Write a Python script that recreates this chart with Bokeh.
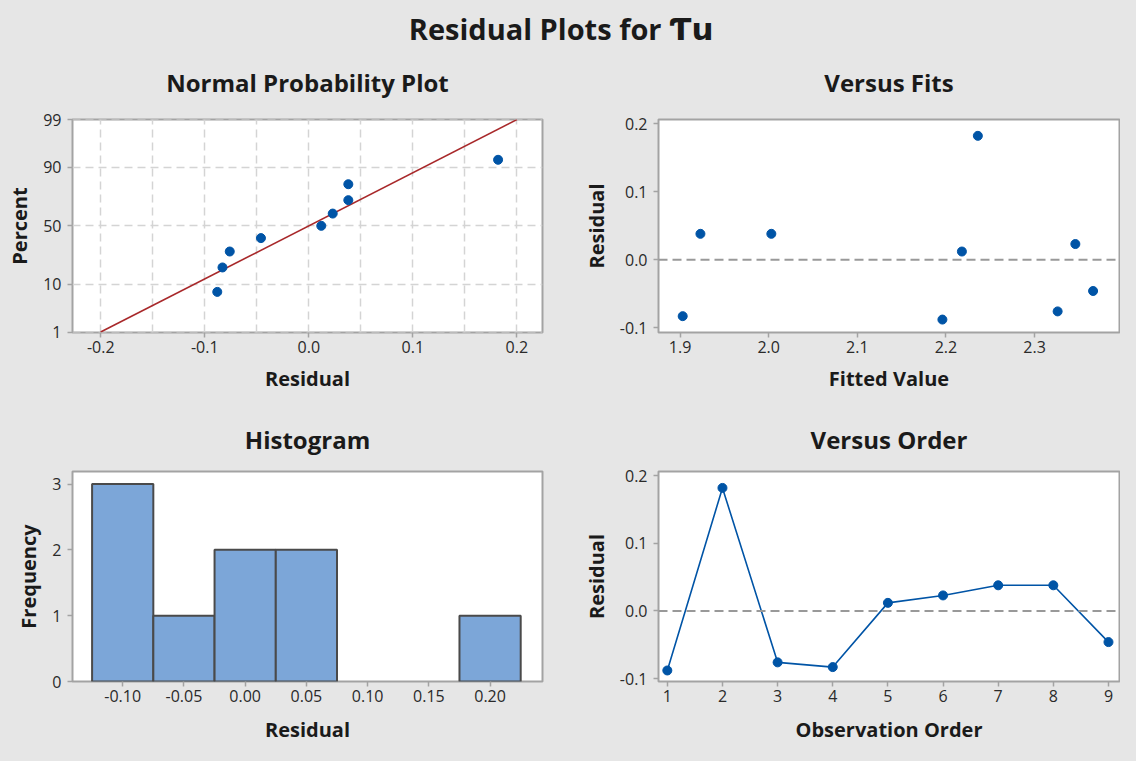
from statistics import NormalDist
import numpy as np
from bokeh.plotting import figure
from bokeh.layouts import column, row
from bokeh.models import FixedTicker, PrintfTickFormatter, Span, Range1d, GlobalInlineStyleSheet
from bokeh.core.properties import value
from bokeh.embed import file_html
from bokeh.resources import INLINE

# ---------------- data ----------------
main_title = "Residual Plots for Ƭu"
panel_titles = ["Normal Probability Plot", "Versus Fits", "Histogram", "Versus Order"]
observation = [1, 2, 3, 4, 5, 6, 7, 8, 9]
residuals = [-0.088, 0.182, -0.076, -0.083, 0.012, 0.023, 0.038, 0.038, -0.046]
fitted = [2.196, 2.236, 2.326, 1.903, 2.218, 2.346, 1.923, 2.003, 2.366]
npp_percent = [7.4, 18.1, 28.7, 39.4, 50.0, 60.6, 71.3, 81.9, 92.6]
percent_ticks = [1, 10, 50, 90, 99]
npp_x_ticks = [-0.2, -0.1, 0.0, 0.1, 0.2]
npp_x_grid = [-0.2, -0.15, -0.1, -0.05, 0.0, 0.05, 0.1, 0.15, 0.2]
fits_x_ticks = [1.9, 2.0, 2.1, 2.2, 2.3]
resid_y_ticks = [-0.1, 0.0, 0.1, 0.2]
hist_centers = [-0.10, -0.05, 0.00, 0.05, 0.10, 0.15, 0.20]
hist_counts = [3, 1, 2, 2, 0, 0, 1]
hist_width = 0.05
freq_ticks = [0, 1, 2, 3]

# ---------------- style ----------------
BG = "#e6e6e6"
FONT = "Open Sans"
BLUE = "#0054A6"
FRAME = "#a3a3a3"
TEXT = "#1a1a1a"

LW, RW = 562, 558
W = LW + RW
TOP_H, H1, MID_H, H2 = 108, 288, 64, 285
BL_L, BR_L, BL_R, BR_R = 72, 20, 96, 1
LEFT_CX = BL_L + (LW - BL_L - BR_L) / 2
RIGHT_CX = LW + BL_R + (RW - BL_R - BR_R) / 2

nd = NormalDist()
def z(pct):
    return nd.inv_cdf(pct / 100.0)


def strip(h):
    s = figure(width=W, height=h, x_range=Range1d(0, W), y_range=Range1d(h, 0),
               output_backend="svg", toolbar_location=None,
               x_axis_type=None, y_axis_type=None, min_border=0,
               background_fill_color=BG, border_fill_color=BG, outline_line_color=None)
    s.xgrid.grid_line_color = None
    s.ygrid.grid_line_color = None
    return s


def add_titles(s, names, y):
    s.text(x=[LEFT_CX, RIGHT_CX], y=[y, y], text=names, text_font=value(FONT),
           text_font_size="24px", text_font_style="bold", text_color=TEXT,
           text_align="center", text_baseline="middle")


def make_fig(w, h, xr, yr, bl, br, bb, xlab_standoff):
    p = figure(width=w, height=h, x_range=Range1d(*xr), y_range=Range1d(*yr),
               output_backend="svg", toolbar_location=None,
               min_border_left=bl, min_border_right=br,
               min_border_top=11, min_border_bottom=bb,
               background_fill_color="white", border_fill_color=BG,
               outline_line_color=FRAME, outline_line_width=2)
    for ax in (p.xaxis[0], p.yaxis[0]):
        ax.axis_line_color = None
        ax.major_tick_line_color = FRAME
        ax.major_tick_line_width = 1.5
        ax.major_tick_in = 0
        ax.major_tick_out = 5
        ax.minor_tick_line_color = None
        ax.major_label_text_font = FONT
        ax.major_label_text_font_size = "16px"
        ax.major_label_text_color = "#2a2a2a"
        ax.axis_label_text_font = FONT
        ax.axis_label_text_font_size = "20px"
        ax.axis_label_text_font_style = "bold"
        ax.axis_label_text_color = TEXT
    p.xaxis.major_label_standoff = 3
    p.xaxis.axis_label_standoff = xlab_standoff
    p.yaxis.major_label_standoff = 6
    p.yaxis.axis_label_standoff = 7
    p.xgrid.grid_line_color = None
    p.ygrid.grid_line_color = None
    return p


# ---------------- top strip: main title + row-1 titles ----------------
top = strip(TOP_H)
head, tail = main_title.rsplit(" ", 1)
top.text(x=[661], y=[28], text=[head], text_font=value(FONT),
         text_font_size="29px", text_font_style="bold", text_color=TEXT,
         text_align="right", text_baseline="middle")
top.text(x=[669], y=[28], text=[tail], text_font=value("DejaVu Sans"),
         text_font_size="31px", text_font_style="bold", text_color=TEXT,
         text_align="left", text_baseline="middle")
add_titles(top, panel_titles[:2], 82)

# ---------------- Normal probability plot ----------------
p1 = make_fig(LW, H1, (-0.2272, 0.2247), (z(1) - 0.01, z(99) + 0.003), BL_L, BR_L, 64, 9)
p1.xaxis.ticker = FixedTicker(ticks=npp_x_ticks)
p1.xaxis.formatter = PrintfTickFormatter(format="%.1f")
yt = [z(v) for v in percent_ticks]
p1.yaxis.ticker = FixedTicker(ticks=yt)
p1.yaxis.major_label_overrides = {t: str(v) for t, v in zip(yt, percent_ticks)}
p1.xaxis.axis_label = "Residual"
p1.yaxis.axis_label = "Percent"
p1.xgrid.ticker = FixedTicker(ticks=npp_x_grid)
p1.ygrid.ticker = FixedTicker(ticks=yt)
for g in (p1.xgrid[0], p1.ygrid[0]):
    g.grid_line_color = "#d4d4d4"
    g.grid_line_width = 1.5
    g.grid_line_dash = "8 5"
mu = float(np.mean(residuals))
sd = float(np.std(residuals, ddof=1))
zl = [z(1), z(99)]
p1.line([mu + sd * v for v in zl], zl, line_color="#A8282A", line_width=1.6)
p1.scatter(sorted(residuals), [z(v) for v in npp_percent], size=9,
           fill_color=BLUE, line_color=BLUE)

# ---------------- Versus fits ----------------
p2 = make_fig(RW, H1, (1.8757, 2.3958), (-0.107, 0.206), BL_R, BR_R, 64, 9)
p2.xaxis.ticker = FixedTicker(ticks=fits_x_ticks)
p2.xaxis.formatter = PrintfTickFormatter(format="%.1f")
p2.yaxis.ticker = FixedTicker(ticks=resid_y_ticks)
p2.yaxis.formatter = PrintfTickFormatter(format="%.1f")
p2.xaxis.axis_label = "Fitted Value"
p2.yaxis.axis_label = "Residual"
p2.add_layout(Span(location=0, dimension="width", line_color="#999999",
                   line_width=2, line_dash="9 5"))
p2.scatter(fitted, residuals, size=9, fill_color=BLUE, line_color=BLUE)

# ---------------- middle strip: row-2 titles ----------------
mid = strip(MID_H)
add_titles(mid, panel_titles[2:], 43)

# ---------------- Histogram ----------------
p3 = make_fig(LW, H2, (-0.141, 0.2428), (0, 3.19), BL_L, BR_L, 61, 11)
p3.xaxis.ticker = FixedTicker(ticks=hist_centers)
p3.xaxis.formatter = PrintfTickFormatter(format="%.2f")
p3.yaxis.ticker = FixedTicker(ticks=freq_ticks)
p3.xaxis.axis_label = "Residual"
p3.yaxis.axis_label = "Frequency"
hx = [c for c, n in zip(hist_centers, hist_counts) if n > 0]
hn = [n for n in hist_counts if n > 0]
p3.vbar(x=hx, top=hn, bottom=0, width=hist_width, fill_color="#7CA6D8",
        line_color="#4a4a4a", line_width=2)

# ---------------- Versus order ----------------
p4 = make_fig(RW, H2, (0.84, 9.2), (-0.1043, 0.2063), BL_R, BR_R, 61, 11)
p4.xaxis.ticker = FixedTicker(ticks=observation)
p4.yaxis.ticker = FixedTicker(ticks=resid_y_ticks)
p4.yaxis.formatter = PrintfTickFormatter(format="%.1f")
p4.xaxis.axis_label = "Observation Order"
p4.yaxis.axis_label = "Residual"
p4.add_layout(Span(location=0, dimension="width", line_color="#999999",
                   line_width=2, line_dash="9 5"))
p4.line(observation, residuals, line_color=BLUE, line_width=1.6)
p4.scatter(observation, residuals, size=9, fill_color=BLUE, line_color=BLUE)

layout = column(top, row(p1, p2, styles={"background-color": BG}),
                mid, row(p3, p4, styles={"background-color": BG}),
                styles={"background-color": BG})
layout.stylesheets = [GlobalInlineStyleSheet(css="html, body { background-color: #e6e6e6; }")]
open("out.html", "w").write(file_html(layout, INLINE))
